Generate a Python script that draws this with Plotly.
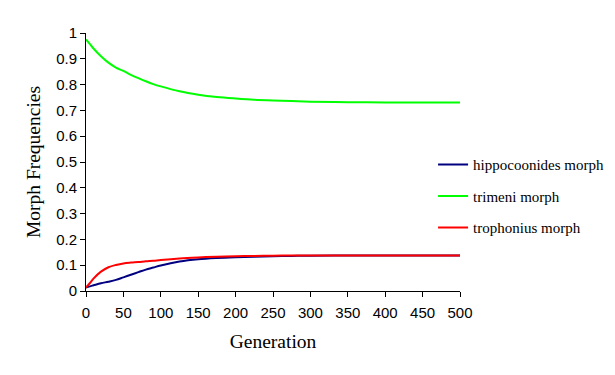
import plotly.graph_objects as go

generation = [0, 5, 10, 20, 30, 40, 50, 60, 70, 80, 90, 100, 125, 150, 175, 200,
              225, 250, 275, 300, 350, 400, 450, 500]
hippocoonides = [0.013, 0.018, 0.022, 0.030, 0.036, 0.043, 0.053, 0.063, 0.073, 0.083,
                 0.091, 0.099, 0.114, 0.123, 0.128, 0.131, 0.133, 0.135, 0.136, 0.137,
                 0.138, 0.138, 0.138, 0.138]
trimeni = [0.975, 0.958, 0.940, 0.910, 0.885, 0.866, 0.853, 0.838, 0.825, 0.813,
           0.802, 0.793, 0.774, 0.761, 0.752, 0.746, 0.741, 0.738, 0.736, 0.734,
           0.732, 0.731, 0.731, 0.731]
trophonius = [0.013, 0.030, 0.048, 0.075, 0.092, 0.101, 0.107, 0.110, 0.112, 0.115,
              0.117, 0.120, 0.126, 0.130, 0.133, 0.135, 0.136, 0.137, 0.138, 0.138,
              0.138, 0.138, 0.138, 0.138]
names = ["hippocoonides morph", "trimeni morph", "trophonius morph"]
colors = ["#000080", "#00FF00", "#FF0000"]

fig = go.Figure()
for i, (nm, ys) in enumerate(zip(names, [hippocoonides, trimeni, trophonius])):
    fig.add_trace(go.Scatter(x=generation, y=ys, mode="lines", name=nm,
                             legendgroup=nm,
                             line=dict(color=colors[i], width=2, shape="spline")))

fig.update_layout(
    width=615, height=375,
    margin=dict(l=78, r=163, t=25, b=92, autoexpand=False),
    plot_bgcolor="white", paper_bgcolor="white",
    showlegend=True,
    legend=dict(x=0.928, y=0.367, xanchor="left", yanchor="middle",
                font=dict(family="Liberation Serif", size=15, color="black"),
                tracegroupgap=9, itemwidth=30, bgcolor="rgba(0,0,0,0)"),
    xaxis=dict(range=[0, 500], tickvals=list(range(0, 501, 50)),
               showline=True, linecolor="black", linewidth=1,
               ticks="outside", ticklen=5, tickcolor="black",
               showgrid=False, zeroline=False, ticklabelstandoff=3,
               tickfont=dict(family="Liberation Sans", size=15, color="black"),
               title=dict(text="Generation", standoff=14,
                          font=dict(family="Liberation Serif", size=19.5, color="black"))),
    yaxis=dict(range=[0, 1], tickvals=[i / 10 for i in range(11)],
               ticktext=["0", "0.1", "0.2", "0.3", "0.4", "0.5", "0.6", "0.7", "0.8", "0.9", "1"],
               showline=True, linecolor="black", linewidth=1,
               ticks="outside", ticklen=5, tickcolor="black",
               showgrid=False, zeroline=False,
               tickfont=dict(family="Liberation Sans", size=15, color="black"),
               title=dict(text="Morph Frequencies", standoff=10,
                          font=dict(family="Liberation Serif", size=19.5, color="black"))),
)
fig.write_html("out.html")
